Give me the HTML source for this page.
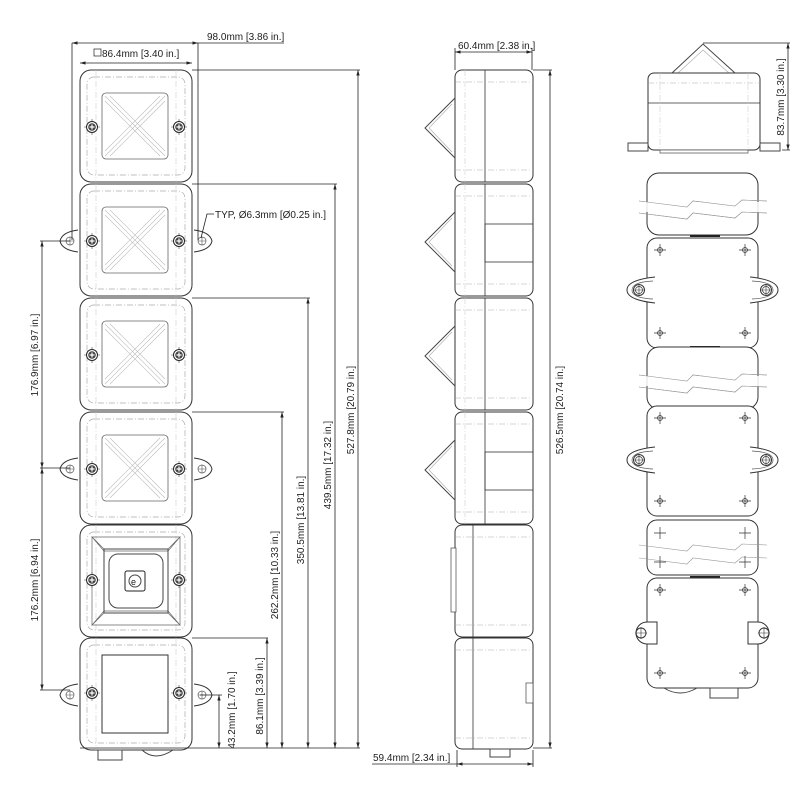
<!DOCTYPE html>
<html><head><meta charset="utf-8"><style>
html,body{margin:0;padding:0;background:#fff}
svg{display:block}
text{font-family:"Liberation Sans",sans-serif;font-size:10px;fill:#222}
</style></head><body>
<svg width="800" height="800" viewBox="0 0 800 800" xmlns="http://www.w3.org/2000/svg">
<defs>
<marker id="ar" viewBox="0 0 10 10" refX="10" refY="5" markerWidth="7" markerHeight="7" orient="auto-start-reverse"><path d="M0,2 L10,5 L0,8z" fill="#222"/></marker>
<g id="screw"><circle r="5.5" fill="#fff" stroke="#222" stroke-width="1"/><circle r="3.8" fill="#444"/><path d="M-2.5,0H2.5M0,-2.5V2.5" stroke="#fff" stroke-width="1.2"/><path d="M-8,0h2.5M5.5,0h2.5M0,-8v2.5M0,5.5v2.5" stroke="#444" stroke-width=".6"/></g>
<g id="box"><rect x="0" y="0" width="112" height="112" rx="11" fill="#fff" stroke="#333" stroke-width="1"/><rect x="7" y="7" width="98" height="98" rx="7" fill="none" stroke="#aaa" stroke-width=".7" stroke-dasharray="6 2 1 2"/><path d="M16,0V112M96,0V112" stroke="#ccc" stroke-width=".6" stroke-dasharray="6 2 1 2"/></g>
<g id="lamp"><use href="#box"/><rect x="22" y="23" width="66" height="66" rx="4" fill="none" stroke="#666" stroke-width=".8"/><path d="M25,26L85,86M85,26L25,86M30,26L85,81M25,31L80,86M80,26L25,81M85,31L30,86" stroke="#bbb" stroke-width=".6"/><use href="#screw" x="12" y="57"/><use href="#screw" x="99" y="57"/></g>
<g id="ear"><path d="M-2,46 Q-18,48 -20,57 Q-18,66 -2,68" fill="#fff" stroke="#333"/><circle cx="-10" cy="57" r="4" fill="none" stroke="#555" stroke-width=".7"/><path d="M-14,57h8M-10,53v8" stroke="#555" stroke-width=".6"/></g>
<g id="earR"><path d="M114,46 Q130,48 132,57 Q130,66 114,68" fill="#fff" stroke="#333"/><circle cx="122" cy="57" r="4" fill="none" stroke="#555" stroke-width=".7"/><path d="M118,57h8M122,53v8" stroke="#555" stroke-width=".6"/></g>
<g id="side"><rect x="0" y="0" width="78" height="112" rx="7" fill="#fff" stroke="#333"/><path d="M30,0V112" stroke="#333" stroke-width=".8"/><path d="M0,12H78M0,100H78" stroke="#aaa" stroke-width=".6" stroke-dasharray="6 2 1 2"/><path d="M10,0V112" stroke="#ccc" stroke-width=".6" stroke-dasharray="6 2 1 2"/></g>
<g id="cone"><path d="M0,28 L-30,58 L0,88" fill="none" stroke="#444"/><path d="M-3,34 L-26,58 L-3,82" fill="none" stroke="#aaa" stroke-width=".6"/></g>
<g id="rearmod"><rect x="0" y="0" width="111" height="110" rx="10" fill="#fff" stroke="#333"/><g stroke="#333" stroke-width=".7" fill="none"><circle cx="13" cy="12" r="2.5"/><circle cx="98" cy="12" r="2.5"/><circle cx="13" cy="95" r="2.5"/><circle cx="98" cy="95" r="2.5"/><path d="M7,12h12M13,6v12M92,12h12M98,6v12M7,95h12M13,89v12M92,95h12M98,89v12"/></g></g>
<g id="clip"><path d="M8,-13 Q-20,-10 -20,0 Q-20,10 8,13" fill="#fff" stroke="#333"/><path d="M6,-9 Q-15,-8 -15,0 Q-15,8 6,9" fill="none" stroke="#555" stroke-width=".7"/><circle cx="-8" cy="0" r="5.5" fill="none" stroke="#333"/><circle cx="-8" cy="0" r="3.5" fill="none" stroke="#333" stroke-width=".7"/><path d="M-13,0h10M-8,-5v10" stroke="#333" stroke-width=".6"/></g>
<g id="brk"><rect x="0" y="0" width="111" height="62" rx="12" fill="#fff" stroke="#333"/><path d="M-8,28 L40,34 L46,28 L88,33 L95,27 L120,28 M-8,40 L40,46 L46,40 L88,45 L95,39 L120,40" fill="none" stroke="#999" stroke-width=".6"/><rect x="-8" y="29" width="128" height="10" fill="#fff" stroke="none" opacity=".85"/><path d="M-8,28 L40,34 L46,28 L88,33 L95,27 L120,28 M-8,40 L40,46 L46,40 L88,45 L95,39 L120,40" fill="none" stroke="#999" stroke-width=".6"/></g>
</defs>

<!-- FRONT VIEW -->
<g transform="translate(80,70)"><use href="#lamp"/></g>
<g transform="translate(80,184)"><use href="#lamp"/><use href="#ear"/><use href="#earR"/></g>
<g transform="translate(80,298)"><use href="#lamp"/></g>
<g transform="translate(80,412)"><use href="#lamp"/><use href="#ear"/><use href="#earR"/></g>
<g transform="translate(80,525)"><use href="#box"/>
 <path d="M12,12H100L88,26H24Z M12,100H100L88,86H24Z M12,12V100L24,88V24Z M100,12V100L88,88V24Z" fill="none" stroke="#666" stroke-width=".7"/>
 <rect x="24" y="24" width="64" height="64" fill="none" stroke="#444"/>
 <rect x="29" y="29" width="54" height="54" rx="9" fill="none" stroke="#444"/>
 <rect x="45" y="46" width="20" height="20" rx="2" fill="none" stroke="#222" stroke-width="1"/><circle cx="55" cy="56" r="6" fill="none" stroke="#444"/><text x="51" y="60" style="font-size:9px">e</text>
 <use href="#screw" x="12" y="55"/><use href="#screw" x="99" y="55"/></g>
<g transform="translate(80,638)"><use href="#box"/><use href="#ear"/><use href="#earR"/>
 <rect x="22" y="17" width="66" height="78" fill="#fff" stroke="#333"/>
 <use href="#screw" x="12" y="55"/><use href="#screw" x="99" y="55"/></g>
<path d="M98,750h24v10h-24z" fill="#fff" stroke="#444"/><path d="M142,750 Q155,762 173,750" fill="none" stroke="#444"/>

<!-- front dims -->
<g stroke="#222" stroke-width=".8" fill="none">
<path d="M72,240V43M198,240V43" />
<path d="M72,43H198" marker-start="url(#ar)" marker-end="url(#ar)"/>
<path d="M198,43H284"/>
<path d="M80,63H192" marker-start="url(#ar)" marker-end="url(#ar)"/>
<path d="M192,70H360M192,184H337M192,298H310M192,412H284M192,638H268M200,695H222M80,748H360"/>
<path d="M358,70V748" marker-start="url(#ar)" marker-end="url(#ar)"/>
<path d="M335,184V748" marker-start="url(#ar)" marker-end="url(#ar)"/>
<path d="M308,298V748" marker-start="url(#ar)" marker-end="url(#ar)"/>
<path d="M282,412V748" marker-start="url(#ar)" marker-end="url(#ar)"/>
<path d="M267,638V748" marker-start="url(#ar)" marker-end="url(#ar)"/>
<path d="M219,695V748" marker-start="url(#ar)" marker-end="url(#ar)"/>
<path d="M40,241H70M40,468H70M40,690H70"/>
<path d="M42,241V468" marker-start="url(#ar)" marker-end="url(#ar)"/>
<path d="M42,468V690" marker-start="url(#ar)" marker-end="url(#ar)"/>
<path d="M201,238 L207,214 H214"/>
</g>
<text x="207" y="40">98.0mm [3.86 in.]</text>
<rect x="94" y="49" width="7" height="7" fill="none" stroke="#222" stroke-width=".7"/>
<text x="102" y="57">86.4mm [3.40 in.]</text>
<text x="215" y="218">TYP, Ø6.3mm [Ø0.25 in.]</text>
<text transform="translate(354,410) rotate(-90)" text-anchor="middle">527.8mm [20.79 in.]</text>
<text transform="translate(331,465) rotate(-90)" text-anchor="middle">439.5mm [17.32 in.]</text>
<text transform="translate(304,520) rotate(-90)" text-anchor="middle">350.5mm [13.81 in.]</text>
<text transform="translate(278,575) rotate(-90)" text-anchor="middle">262.2mm [10.33 in.]</text>
<text transform="translate(263,696) rotate(-90)" text-anchor="middle">86.1mm [3.39 in.]</text>
<text transform="translate(235,710) rotate(-90)" text-anchor="middle">43.2mm [1.70 in.]</text>
<text transform="translate(38,355) rotate(-90)" text-anchor="middle">176.9mm [6.97 in.]</text>
<text transform="translate(38,580) rotate(-90)" text-anchor="middle">176.2mm [6.94 in.]</text>

<!-- SIDE VIEW -->
<g transform="translate(455,70)"><use href="#side"/><use href="#cone"/></g>
<g transform="translate(455,184)"><use href="#side"/><use href="#cone"/><rect x="30" y="40" width="48" height="38" fill="none" stroke="#333" stroke-width=".8"/></g>
<g transform="translate(455,298)"><use href="#side"/><use href="#cone"/></g>
<g transform="translate(455,412)"><use href="#side"/><use href="#cone"/><rect x="30" y="40" width="48" height="38" fill="none" stroke="#333" stroke-width=".8"/></g>
<g transform="translate(455,525)"><rect x="0" y="0" width="78" height="112" rx="7" fill="#fff" stroke="#333"/><path d="M18,0V112" stroke="#333" stroke-width=".8"/><path d="M0,12H78M0,100H78" stroke="#aaa" stroke-width=".6" stroke-dasharray="6 2 1 2"/><rect x="-4" y="23" width="5" height="64" fill="#fff" stroke="#444" stroke-width=".7"/></g>
<g transform="translate(455,638)"><rect x="0" y="0" width="78" height="111" rx="7" fill="#fff" stroke="#333"/><path d="M18,0V111" stroke="#333" stroke-width=".8"/><path d="M0,12H78M0,100H78" stroke="#aaa" stroke-width=".6" stroke-dasharray="6 2 1 2"/><rect x="71" y="45" width="7" height="20" fill="#fff" stroke="#444" stroke-width=".7"/></g>
<path d="M490,749h20v8h-20z" fill="#fff" stroke="#444"/>
<g stroke="#222" stroke-width=".8" fill="none">
<path d="M455,70V48M532,70V48"/>
<path d="M455,52H532" marker-start="url(#ar)" marker-end="url(#ar)"/>
<path d="M533,70H552M533,748H552"/>
<path d="M550,70V748" marker-start="url(#ar)" marker-end="url(#ar)"/>
<path d="M457,750V767M533,750V767"/>
<path d="M457,764H533" marker-start="url(#ar)" marker-end="url(#ar)"/>
<path d="M372,764H457"/>
</g>
<text x="458" y="49">60.4mm [2.38 in.]</text>
<text transform="translate(563,410) rotate(-90)" text-anchor="middle">526.5mm [20.74 in.]</text>
<text x="373" y="761">59.4mm [2.34 in.]</text>

<!-- TOP VIEW -->
<path d="M672,73 L703,44 L735,73" fill="#fff" stroke="#444"/>
<path d="M678,73 L703,50 L729,73" fill="none" stroke="#aaa" stroke-width=".6"/>
<rect x="648" y="73" width="112" height="77" rx="6" fill="#fff" stroke="#333"/>
<path d="M648,103H760" stroke="#333" stroke-width=".8"/>
<path d="M648,83H760" stroke="#aaa" stroke-width=".6" stroke-dasharray="6 2 1 2"/>
<path d="M660,73V150M748,73V150" stroke="#ccc" stroke-width=".6" stroke-dasharray="6 2 1 2"/>
<path d="M628,143h20v8h-20zM760,143h20v8h-20z" fill="#fff" stroke="#444"/>
<path d="M660,150h88v3h-88z" fill="#fff" stroke="#555" stroke-width=".7"/>
<g stroke="#222" stroke-width=".8" fill="none">
<path d="M703,43H790M782,150H790"/>
<path d="M788,43V150" marker-start="url(#ar)" marker-end="url(#ar)"/>
</g>
<text transform="translate(784,97) rotate(-90)" text-anchor="middle">83.7mm [3.30 in.]</text>

<!-- REAR VIEW -->
<g transform="translate(647,173)"><use href="#brk"/></g>
<path d="M690,236h30" stroke="#222" stroke-width="2"/>
<g transform="translate(647,238)"><use href="#rearmod"/></g>
<g transform="translate(647,290)"><use href="#clip"/></g>
<g transform="translate(758,290) scale(-1,1)"><use href="#clip"/></g>
<path d="M690,347h30" stroke="#222" stroke-width="2"/>
<g transform="translate(647,347)"><use href="#brk"/></g>
<g transform="translate(647,406)"><use href="#rearmod"/></g>
<g transform="translate(647,460)"><use href="#clip"/></g>
<g transform="translate(758,460) scale(-1,1)"><use href="#clip"/></g>
<g transform="translate(647,520)"><rect x="0" y="0" width="111" height="55" rx="10" fill="#fff" stroke="#333"/><path d="M-8,25 L40,31 L46,25 L88,30 L95,24 L120,25 M-8,38 L40,44 L46,38 L88,43 L95,37 L120,38" fill="none" stroke="#999" stroke-width=".6"/><g stroke="#333" stroke-width=".7"><path d="M7,13h12M13,7v12M92,13h12M98,7v12M7,42h12M13,36v12M92,42h12M98,36v12"/></g></g>
<path d="M690,577h30" stroke="#222" stroke-width="2"/>
<g transform="translate(647,578)"><use href="#rearmod"/></g>
<g transform="translate(647,633)"><path d="M0,-11h10v22h-10" fill="#fff" stroke="#333"/><path d="M0,-11 A11,11 0 0 0 0,11" fill="#fff" stroke="#333"/><circle cx="-6" cy="0" r="5" fill="none" stroke="#333"/><path d="M-12,0h12M-6,-6v12" stroke="#333" stroke-width=".6"/></g>
<g transform="translate(758,633) scale(-1,1)"><path d="M0,-11h10v22h-10" fill="#fff" stroke="#333"/><path d="M0,-11 A11,11 0 0 0 0,11" fill="#fff" stroke="#333"/><circle cx="-6" cy="0" r="5" fill="none" stroke="#333"/><path d="M-12,0h12M-6,-6v12" stroke="#333" stroke-width=".6"/></g>
<path d="M664,688 Q680,698 697,688" fill="none" stroke="#444"/>
<path d="M710,688h28v10h-28z" fill="#fff" stroke="#444"/>
</svg>
</body></html>
